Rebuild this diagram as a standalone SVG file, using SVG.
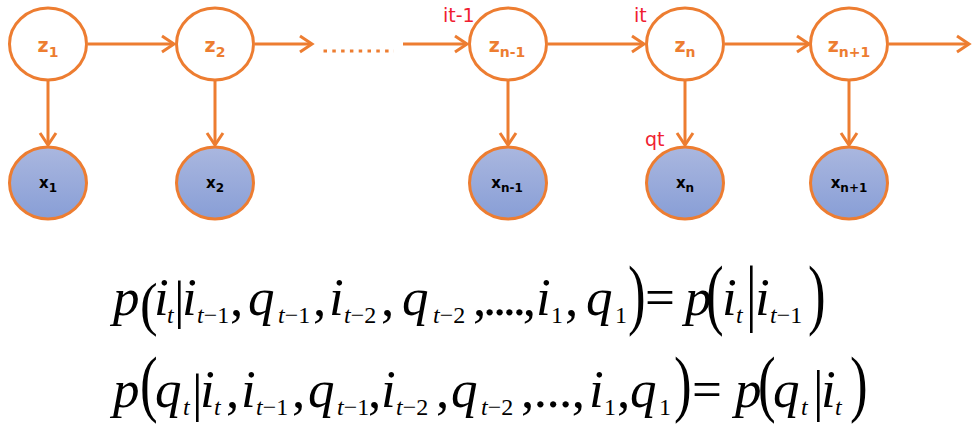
<svg xmlns="http://www.w3.org/2000/svg" width="973" height="439" viewBox="0 0 973 439">
<style>
.zn{fill:#fff;stroke:#ED7D31;stroke-width:3}
.xn{fill:url(#xg);stroke:#ED7D31;stroke-width:3}
.zl{font-family:"DejaVu Sans",sans-serif;font-weight:bold;font-size:19px;fill:#ED7D31;text-anchor:middle}
.zl .sb{font-size:14px}
.xl{font-family:"DejaVu Sans",sans-serif;font-weight:bold;font-size:15px;fill:#000;text-anchor:middle}
.xl .sb{font-size:12px}
.rl{font-family:"DejaVu Sans",sans-serif;font-size:19px;fill:#F02030}
.c{fill:none;stroke:#ED7D31;stroke-width:3}
.m{font-family:"Liberation Serif","Times New Roman",serif;font-size:53px;font-style:italic;fill:#000}
.u{font-style:normal}
.s{font-size:24px}
</style>
<defs>
<linearGradient id="xg" x1="0" y1="0" x2="0" y2="1">
<stop offset="0" stop-color="#AAB7DF"/>
<stop offset="1" stop-color="#889ED6"/>
</linearGradient>
<marker id="ah" markerUnits="userSpaceOnUse" markerWidth="20" markerHeight="20" viewBox="0 0 20 20" refX="14" refY="10" orient="auto">
<path d="M2,2 L14,10 L2,18" fill="none" stroke="#ED7D31" stroke-width="3"/>
</marker>
</defs>
<rect width="973" height="439" fill="#fff"/>

<g id="connectors">
<path class="c" d="M88,44 H174" marker-end="url(#ah)"/>
<path class="c" d="M255,44 H312" marker-end="url(#ah)"/>
<path class="c" d="M323.5,51 H394" stroke-dasharray="3.5 5.3"/>
<path class="c" d="M403,44 H467" marker-end="url(#ah)"/>
<path class="c" d="M548,44 H644" marker-end="url(#ah)"/>
<path class="c" d="M725,44 H809" marker-end="url(#ah)"/>
<path class="c" d="M889,44 H969" marker-end="url(#ah)"/>
<path class="c" d="M48,81 V145" marker-end="url(#ah)"/>
<path class="c" d="M215,81 V145" marker-end="url(#ah)"/>
<path class="c" d="M508,81 V145" marker-end="url(#ah)"/>
<path class="c" d="M685,81 V145" marker-end="url(#ah)"/>
<path class="c" d="M849,81 V145" marker-end="url(#ah)"/>
</g>

<g id="z1"><ellipse class="zn" cx="48" cy="44" rx="38.5" ry="36"/><text class="zl" x="48" y="52">z<tspan class="sb" dy="5">1</tspan></text></g>
<g id="z2"><ellipse class="zn" cx="215" cy="44" rx="38.5" ry="36"/><text class="zl" x="215" y="52">z<tspan class="sb" dy="5">2</tspan></text></g>
<g id="zn-1"><ellipse class="zn" cx="508" cy="44" rx="38.5" ry="36"/><text class="zl" x="507" y="52">z<tspan class="sb" dy="5">n-1</tspan></text></g>
<g id="zn"><ellipse class="zn" cx="685" cy="44" rx="38.5" ry="36"/><text class="zl" x="685" y="52">z<tspan class="sb" dy="5">n</tspan></text></g>
<g id="zn+1"><ellipse class="zn" cx="849" cy="44" rx="38.5" ry="36"/><text class="zl" x="849" y="52">z<tspan class="sb" dy="5">n+1</tspan></text></g>

<g id="x1"><ellipse class="xn" cx="48" cy="183" rx="38.5" ry="36"/><text class="xl" x="48" y="188">x<tspan class="sb" dy="4">1</tspan></text></g>
<g id="x2"><ellipse class="xn" cx="215" cy="183" rx="38.5" ry="36"/><text class="xl" x="215" y="188">x<tspan class="sb" dy="4">2</tspan></text></g>
<g id="xn-1"><ellipse class="xn" cx="508" cy="183" rx="38.5" ry="36"/><text class="xl" x="507" y="188">x<tspan class="sb" dy="4">n-1</tspan></text></g>
<g id="xn"><ellipse class="xn" cx="685" cy="183" rx="38.5" ry="36"/><text class="xl" x="685" y="188">x<tspan class="sb" dy="4">n</tspan></text></g>
<g id="xn+1"><ellipse class="xn" cx="849" cy="183" rx="38.5" ry="36"/><text class="xl" x="849" y="188">x<tspan class="sb" dy="4">n+1</tspan></text></g>

<g id="labels">
<text class="rl" x="443" y="22">it-1</text>
<text class="rl" x="634" y="22">it</text>
<text class="rl" x="645" y="146">qt</text>
</g>

<g id="eq1">
<text class="m" x="113" y="315">p</text>
<text class="m u" transform="translate(140,324.1) scale(1,1.12)">(</text>
<text class="m" x="154" y="315">i</text>
<text class="m s" x="167" y="323">t</text>
<text class="m u" x="174" y="318">|</text>
<text class="m" x="182" y="315">i</text>
<text class="m s" x="197" y="323">t<tspan class="u">−1</tspan></text>
<text class="m u" x="230" y="315">,</text>
<text class="m" x="248" y="315">q</text>
<text class="m s" x="278" y="323">t<tspan class="u">−1</tspan></text>
<text class="m u" x="313" y="315">,</text>
<text class="m" x="329" y="315">i</text>
<text class="m s" x="344" y="323">t<tspan class="u">−2</tspan></text>
<text class="m u" x="381" y="315">,</text>
<text class="m" x="402" y="315">q</text>
<text class="m s" x="433" y="323">t<tspan class="u">−2</tspan></text>
<text class="m u" x="473" y="315" textLength="63" lengthAdjust="spacing">,....,</text>
<text class="m" x="536" y="315">i</text>
<text class="m s u" x="551" y="323">1</text>
<text class="m u" x="565" y="315">,</text>
<text class="m" x="586" y="315">q</text>
<text class="m s u" x="615" y="323">1</text>
<text class="m u" transform="translate(628,320.4) scale(1,1.46)">)</text>
<text class="m u" x="645" y="315">=</text>
<text class="m" x="685" y="315">p</text>
<text class="m u" transform="translate(706,320.4) scale(1,1.46)">(</text>
<text class="m" x="722" y="315">i</text>
<text class="m s" x="736" y="323">t</text>
<text class="m u" transform="translate(746,317.3) scale(1,1.38)">|</text>
<text class="m" x="755" y="315">i</text>
<text class="m s" x="770" y="323">t<tspan class="u">−1</tspan></text>
<text class="m u" transform="translate(808,320.4) scale(1,1.46)">)</text>
</g>

<g id="eq2">
<text class="m" x="113" y="407">p</text>
<text class="m u" transform="translate(140,408.1) scale(1,1.4)">(</text>
<text class="m" x="155" y="407">q</text>
<text class="m s" x="183" y="415">t</text>
<text class="m u" x="192" y="411">|</text>
<text class="m" x="200" y="407">i</text>
<text class="m s" x="214" y="415">t</text>
<text class="m u" x="226" y="407">,</text>
<text class="m" x="241" y="407">i</text>
<text class="m s" x="256" y="415">t<tspan class="u">−1</tspan></text>
<text class="m u" x="292" y="407">,</text>
<text class="m" x="308" y="407">q</text>
<text class="m s" x="337" y="415">t<tspan class="u">−1</tspan></text>
<text class="m u" x="368" y="407">,</text>
<text class="m" x="381" y="407">i</text>
<text class="m s" x="396" y="415">t<tspan class="u">−2</tspan></text>
<text class="m u" x="436" y="407">,</text>
<text class="m" x="451" y="407">q</text>
<text class="m s" x="481" y="415">t<tspan class="u">−2</tspan></text>
<text class="m u" x="521" y="407" textLength="64" lengthAdjust="spacing">,...,</text>
<text class="m" x="589" y="407">i</text>
<text class="m s u" x="604" y="415">1</text>
<text class="m u" x="617" y="407">,</text>
<text class="m" x="630" y="407">q</text>
<text class="m s u" x="659" y="415">1</text>
<text class="m u" transform="translate(674,408.1) scale(1,1.4)">)</text>
<text class="m u" x="692" y="407">=</text>
<text class="m" x="735" y="407">p</text>
<text class="m u" transform="translate(758,408.1) scale(1,1.4)">(</text>
<text class="m" x="773" y="407">q</text>
<text class="m s" x="801" y="415">t</text>
<text class="m u" transform="translate(813,410) scale(1,1.06)">|</text>
<text class="m" x="821" y="407">i</text>
<text class="m s" x="835" y="415">t</text>
<text class="m u" transform="translate(850,408.1) scale(1,1.4)">)</text>
</g>
</svg>
